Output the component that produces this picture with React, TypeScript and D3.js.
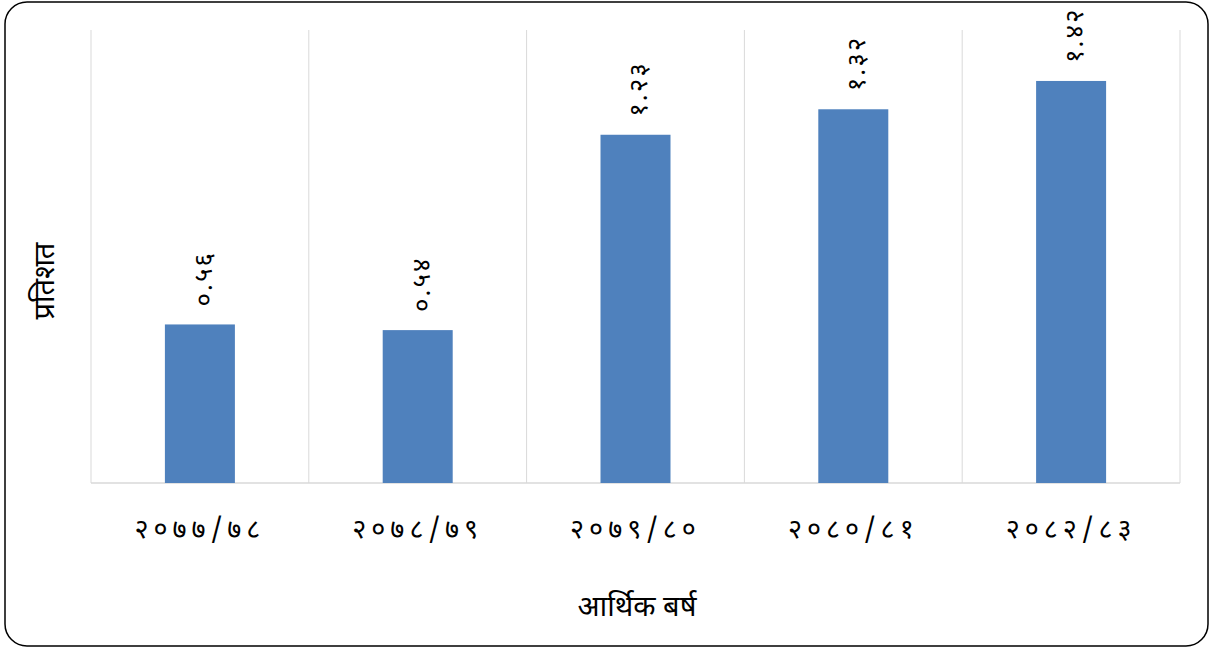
import React from "react";
import * as d3 from "d3";

const categories = ["२०७७/७८", "२०७८/७९", "२०७९/८०", "२०८०/८१", "२०८२/८३"];
const values = [0.56, 0.54, 1.23, 1.32, 1.42];
const valueLabels = ["०.५६", "०.५४", "१.२३", "१.३२", "१.४२"];
const yTitle = "प्रतिशत";
const xTitle = "आर्थिक बर्ष";

const W = 1212;
const H = 650;
const FONT = "'Noto Sans Devanagari', 'Noto Serif Devanagari', 'Lohit Devanagari', 'Noto Sans', sans-serif";

export default function App() {
  const left = 91, right = 1180, top = 30, bottom = 483;
  const x = d3.scaleBand<string>().domain(categories).range([left, right]).paddingInner(0).paddingOuter(0);
  const y = d3.scaleLinear().domain([0, 1.6]).range([bottom, top]);
  const barW = 70;
  const bounds = categories.map((c) => x(c) as number).concat([right]);

  return (
    <svg width={W} height={H} style={{ position: "absolute", left: 0, top: 0 }}>
      <rect x={5} y={2} width={1203} height={644} rx={22} ry={22} fill="#fff" stroke="#000" strokeWidth={1.5} />
      {bounds.map((b, i) => (
        <line key={i} x1={b} x2={b} y1={top} y2={bottom} stroke="#d9d9d9" strokeWidth={1} />
      ))}
      <line x1={left} x2={right} y1={bottom} y2={bottom} stroke="#d9d9d9" strokeWidth={1.5} />
      {categories.map((c, i) => {
        const cx = (x(c) as number) + x.bandwidth() / 2;
        const yt = y(values[i]);
        return (
          <g key={c}>
            <rect x={cx - barW / 2} y={yt} width={barW} height={bottom - yt} fill="#4f81bd" />
            <text
              transform={`translate(${cx + 5},${yt - 18}) rotate(-90)`}
              fontFamily={FONT}
              fontSize={26}
              dominantBaseline="middle"
              textAnchor="start"
              letterSpacing={2}
              fill="#000"
            >
              {valueLabels[i]}
            </text>
            <text
              x={cx}
              y={538}
              fontFamily={FONT}
              fontSize={27}
              textAnchor="middle"
              letterSpacing={5}
              fill="#000"
            >
              {c}
            </text>
          </g>
        );
      })}
      <text
        transform={`translate(54,281) rotate(-90)`}
        fontFamily={FONT}
        fontSize={29}
        textAnchor="middle"
        fill="#000"
      >
        {yTitle}
      </text>
      <text x={637} y={616} fontFamily={FONT} fontSize={29} textAnchor="middle" fill="#000">
        {xTitle}
      </text>
    </svg>
  );
}
